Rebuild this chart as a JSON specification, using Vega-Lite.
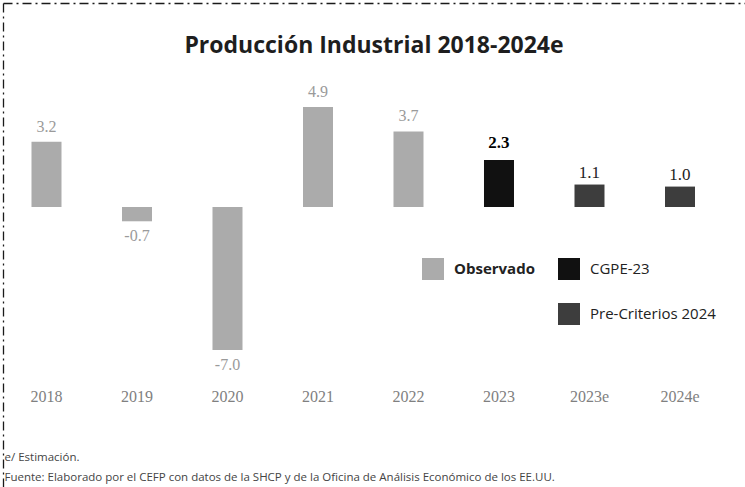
{
  "$schema": "https://vega.github.io/schema/vega-lite/v6.json",
  "width": 742,
  "height": 484,
  "autosize": {"type": "none"},
  "padding": {"left": 3, "top": 3, "right": 0, "bottom": 0},
  "background": "#ffffff",
  "config": {
    "view": {"stroke": null},
    "font": "Open Sans"
  },
  "title": {
    "text": "Producción Industrial 2018-2024e",
    "font": "Open Sans",
    "fontSize": 23,
    "fontWeight": "bold",
    "color": "#1e1e1e",
    "anchor": "middle",
    "offset": -55
  },
  "datasets": {
    "bars": [
      {"year": "2018", "value": 3.2, "label": "3.2", "serie": "Observado"},
      {"year": "2019", "value": -0.7, "label": "-0.7", "serie": "Observado"},
      {"year": "2020", "value": -7.0, "label": "-7.0", "serie": "Observado"},
      {"year": "2021", "value": 4.9, "label": "4.9", "serie": "Observado"},
      {"year": "2022", "value": 3.7, "label": "3.7", "serie": "Observado"},
      {"year": "2023", "value": 2.3, "label": "2.3", "serie": "CGPE-23"},
      {"year": "2023e", "value": 1.1, "label": "1.1", "serie": "Pre-Criterios 2024"},
      {"year": "2024e", "value": 1.0, "label": "1.0", "serie": "Pre-Criterios 2024"}
    ],
    "sub": [
      {"year": "2023", "label": "CGPE 2023"},
      {"year": "2023e", "label": "Pre-Criterios"}
    ]
  },
  "data": {"name": "bars"},
  "encoding": {
    "x": {
      "field": "year",
      "type": "nominal",
      "sort": null,
      "scale": {
        "domain": ["2018", "2019", "2020", "2021", "2022", "2023", "2023e", "2024e"],
        "paddingInner": 0.6685,
        "paddingOuter": 0.4337,
        "align": 0.363,
        "round": false
      },
      "axis": {
        "orient": "bottom",
        "offset": -91,
        "domain": false,
        "ticks": false,
        "tickSize": 0,
        "grid": false,
        "labelPadding": 0,
        "labelBaseline": "middle",
        "labelAngle": 0,
        "labelFont": "Liberation Serif",
        "labelFontSize": 16,
        "labelColor": "#808080",
        "title": ["e/ Estimación.", "Fuente: Elaborado por el CEFP con datos de la SHCP y de la Oficina de Análisis Económico de los EE.UU."],
        "titleFont": "Open Sans",
        "titleFontSize": 11.5,
        "titleFontWeight": "normal",
        "titleColor": "#444444",
        "titleAlign": "left",
        "titleAnchor": "start",
        "titleAngle": 0,
        "titleBaseline": "alphabetic",
        "titleX": 1,
        "titleY": 64,
        "titleLineHeight": 20,
        "titlePadding": 0
      }
    },
    "y": {
      "field": "value",
      "type": "quantitative",
      "scale": {"domain": [-13.712, 9.99], "nice": false, "zero": false},
      "axis": {
        "orient": "left",
        "values": [9.99],
        "labels": false,
        "ticks": false,
        "title": null,
        "domain": true,
        "domainColor": "#1a1a1a",
        "domainWidth": 1.3,
        "domainDash": [9, 4, 2, 4],
        "grid": true,
        "gridColor": "#1a1a1a",
        "gridWidth": 1.3,
        "gridOpacity": 1,
        "gridDash": [9, 4, 2, 4]
      }
    }
  },
  "layer": [
    {
      "mark": {"type": "bar"},
      "encoding": {
        "y2": {"datum": 0},
        "color": {
          "field": "serie",
          "type": "nominal",
          "scale": {
            "domain": ["Observado", " ", "CGPE-23", "Pre-Criterios 2024"],
            "range": ["#ababab", "rgba(0,0,0,0)", "#111111", "#3d3d3d"]
          },
          "legend": {
            "orient": "none",
            "legendX": 419,
            "legendY": 255,
            "title": null,
            "columns": 2,
            "columnPadding": 23,
            "rowPadding": 23,
            "padding": 0,
            "symbolType": "square",
            "symbolSize": 484,
            "symbolStrokeWidth": 0,
            "symbolOpacity": 1,
            "labelFont": "Open Sans",
            "labelFontSize": 15,
            "labelColor": "#222222",
            "labelOffset": 10,
            "labelLimit": 300,
            "encode": {
              "labels": {
                "update": {
                  "fontWeight": {"signal": "datum.value === 'Observado' ? 'bold' : 'normal'"}
                }
              }
            }
          }
        }
      }
    },
    {
      "transform": [{"filter": "datum.serie === 'Observado' && datum.value >= 0"}],
      "mark": {"type": "text", "baseline": "middle", "dy": -15, "font": "Liberation Serif", "fontSize": 16, "color": "#9a9a9a"},
      "encoding": {"text": {"field": "label", "type": "nominal"}}
    },
    {
      "transform": [{"filter": "datum.serie === 'Observado' && datum.value < 0"}],
      "mark": {"type": "text", "baseline": "middle", "dy": 15, "font": "Liberation Serif", "fontSize": 16, "color": "#9a9a9a"},
      "encoding": {"text": {"field": "label", "type": "nominal"}}
    },
    {
      "transform": [{"filter": "datum.serie === 'CGPE-23'"}],
      "mark": {"type": "text", "baseline": "middle", "dy": -17, "font": "Liberation Serif", "fontSize": 17, "fontWeight": "bold", "color": "#000000"},
      "encoding": {"text": {"field": "label", "type": "nominal"}}
    },
    {
      "transform": [{"filter": "datum.serie === 'Pre-Criterios 2024'"}],
      "mark": {"type": "text", "baseline": "middle", "dy": -12, "font": "Liberation Serif", "fontSize": 17, "color": "#222222"},
      "encoding": {"text": {"field": "label", "type": "nominal"}}
    },
    {
      "data": {"name": "sub"},
      "transform": [{"filter": "datum.year === '2023'"}],
      "mark": {"type": "text", "baseline": "middle", "font": "Liberation Serif", "fontSize": 16, "color": "#808080"},
      "encoding": {
        "y": {"datum": -11.26},
        "text": {"field": "label", "type": "nominal"}
      }
    },
    {
      "data": {"name": "sub"},
      "transform": [{"filter": "datum.year === '2023e'"}],
      "mark": {"type": "text", "baseline": "middle", "font": "Liberation Serif", "fontSize": 16, "color": "#808080"},
      "encoding": {
        "x": {"field": "year", "type": "nominal", "bandPosition": 2.0},
        "y": {"datum": -11.26},
        "text": {"field": "label", "type": "nominal"}
      }
    }
  ]
}
